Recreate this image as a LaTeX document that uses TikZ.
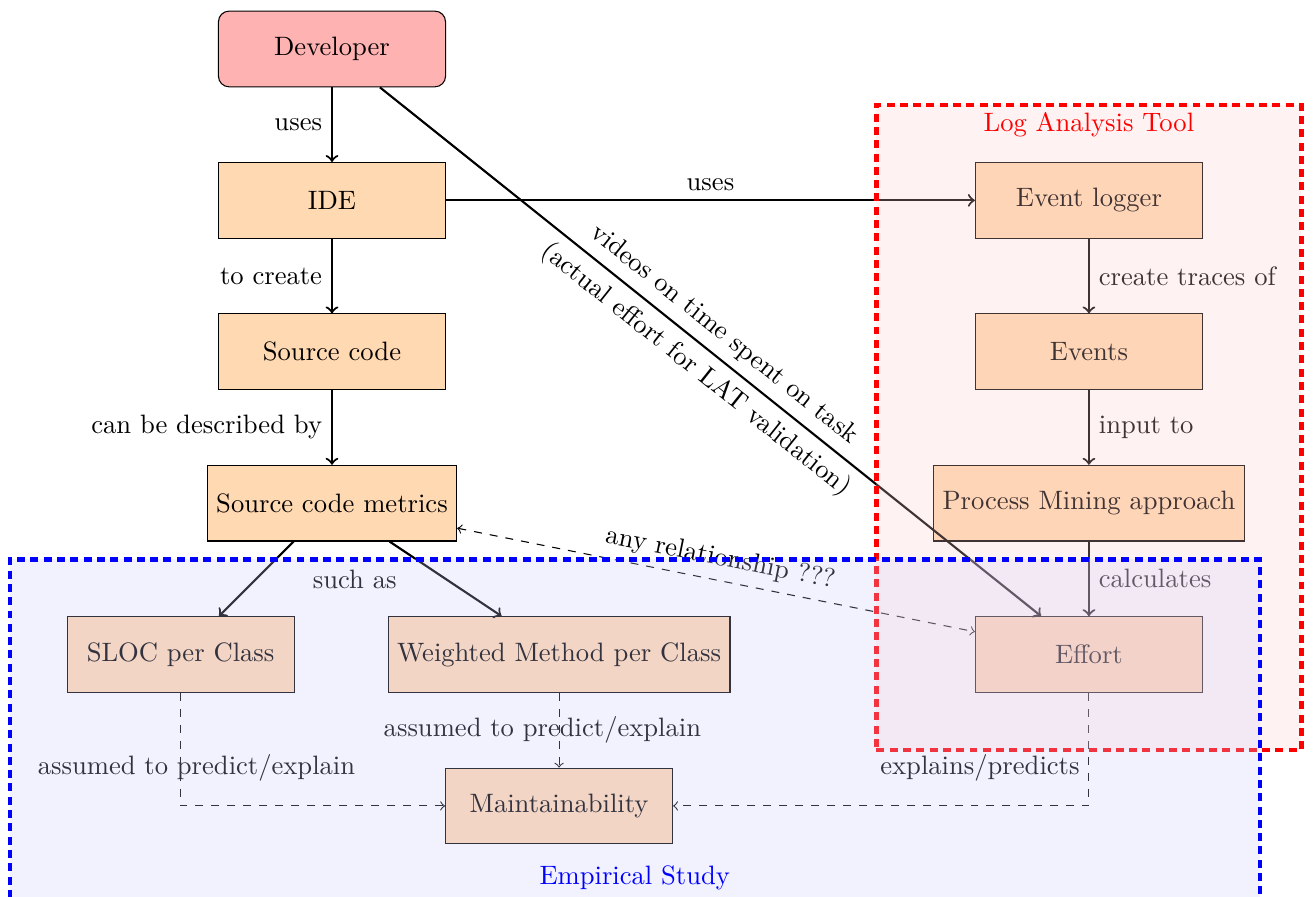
\documentclass[tikz,border=0pt]{standalone}
\usetikzlibrary{calc,fit}
\begin{document}
\begin{tikzpicture}[
  box/.style={draw, fill=orange!30, minimum width=3cm, minimum height=1cm},
  devbox/.style={box, fill=red!30, rounded corners},
  flow/.style={->, thick},
  rel/.style={->, dashed},
  frame/.style={ultra thick, densely dashed, fill opacity=0.25, inner sep=0.75cm}
]
\useasboundingbox (-4.386,0.647) rectangle (12.96,-11.2);

\node[devbox] (dev) at (0,0) {Developer};
\node[box] (ide) at (0,-2) {IDE};
\node[box] (src) at (0,-4) {Source code};
\node[box] (met) at (0,-6) {Source code metrics};
\node[box] (sloc) at (-2,-8) {SLOC per Class};
\node[box] (wmc) at (3,-8) {Weighted Method per Class};
\node[box] (mnt) at (3,-10) {Maintainability};
\node[box] (el) at (10,-2) {Event logger};
\node[box] (ev) at (10,-4) {Events};
\node[box] (pm) at (10,-6) {Process Mining approach};
\node[box] (eff) at (10,-8) {Effort};

\draw[flow] (dev) -- node[left] {uses} (ide);
\draw[flow] (ide) -- node[left] {to create} (src);
\draw[flow] (src) -- node[left] {can be described by} (met);
\draw[flow] (met) -- (sloc);
\draw[flow] (met) -- (wmc);
\node (suchas) at (0.3,-7.01) {such as};
\draw[flow] (ide) -- node[above] {uses} (el);
\draw[flow] (el) -- node[right] {create traces of} (ev);
\draw[flow] (ev) -- node[right] {input to} (pm);
\draw[flow] (pm) -- node[right] {calculates} (eff);
\draw[flow] (dev) -- node[above, sloped] {videos on time spent on task}
                     node[below, sloped] {(actual effort for LAT validation)} (eff);
\draw[<->, dashed] (met) -- node[above, sloped] {any relationship ???} (eff);
\draw[rel] (sloc) |- node[pos=0.33, xshift=0.21cm] {assumed to predict/explain} (mnt);
\draw[rel] (wmc) -- node[xshift=-0.22cm] {assumed to predict/explain} (mnt);
\draw[rel] (eff) |- node[pos=0.33, left] {explains/predicts} (mnt);

\node[frame, fit=(el)(pm)(eff), draw=red, fill=red!20] (lat) {};
\node[red, anchor=north] (latl) at (lat.north) {Log Analysis Tool};

\coordinate (empc) at (4,-10.95);
\node[frame, fit=(sloc)(eff)(mnt)(empc), draw=blue, fill=blue!20] (es) {};
\node[blue] (esl) at (empc) {Empirical Study};
\end{tikzpicture}
\end{document}
